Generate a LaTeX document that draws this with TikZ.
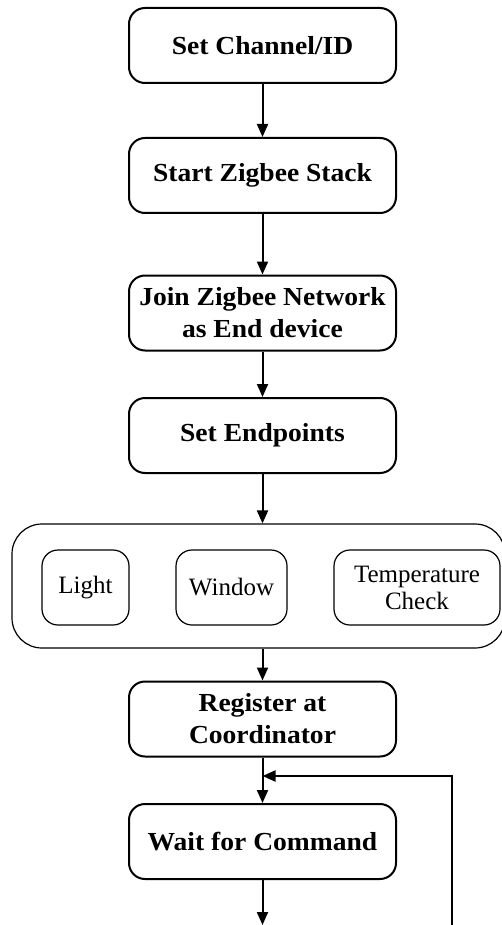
\documentclass[tikz,border=0pt]{standalone}
\usepackage{fontspec}
\setmainfont{Liberation Serif}
\newfontfamily\stepfont{Liberation Serif}[FakeStretch=1.06]
\usetikzlibrary{arrows.meta}
\tikzset{
  stepbox/.style={draw, line width=1pt, rounded corners=8pt, minimum width=133.5pt,
    minimum height=37.5pt, align=center, font=\stepfont\fontsize{13}{16}\selectfont\bfseries, inner sep=0pt},
  groupbox/.style={draw, line width=0.6pt, rounded corners=15pt, inner sep=0pt},
  endpoint/.style={draw, line width=0.6pt, rounded corners=8pt, minimum height=37.5pt,
    align=center, font=\fontsize{12.5}{13.5}\selectfont, inner sep=0pt},
  flow/.style={line width=1pt, -{Triangle[length=6.5pt,width=5.5pt]}}
}
\begin{document}
\begin{tikzpicture}[x=0.5pt, y=-0.5pt]
\useasboundingbox (0,0) rectangle (502,925);
\clip (0,0) rectangle (502,925);
\node[stepbox] (chan) at (262.5,45.5) {Set Channel/ID};
\node[stepbox] (stack) at (262.5,175.5) {Start Zigbee Stack};
\node[stepbox] (join) at (262.5,313) {Join Zigbee Network\\as End device};
\node[stepbox] (endp) at (262.5,435.5) {Set Endpoints};
\node[groupbox, minimum width=246.5pt, minimum height=62pt] (group) at (258.5,586) {};
\node[endpoint, minimum width=43.5pt] (light) at (85.5,587.5) {Light};
\node[endpoint, minimum width=55.5pt] (window) at (231.5,587.5) {Window};
\node[endpoint, minimum width=83pt] (temp) at (417,587.5) {Temperature\\Check};
\node[stepbox] (reg) at (262.5,719) {Register at\\Coordinator};
\node[stepbox] (wait) at (262.5,841.5) {Wait for Command};
\coordinate (out) at (262.5,925);
\coordinate (back) at (452,925);
\coordinate (loopcorner) at (452,776);
\coordinate (merge) at (262.5,776);
\draw[flow] (chan) -- (stack);
\draw[flow] (stack) -- (join);
\draw[flow] (join) -- (endp);
\draw[flow] (endp) -- (endp |- group.north);
\draw[flow] (group.south -| reg) -- (reg);
\draw[flow] (reg) -- (wait);
\draw[flow] (wait) -- (out);
\draw[flow] (back) -- (loopcorner) -- (merge);
\end{tikzpicture}
\end{document}
